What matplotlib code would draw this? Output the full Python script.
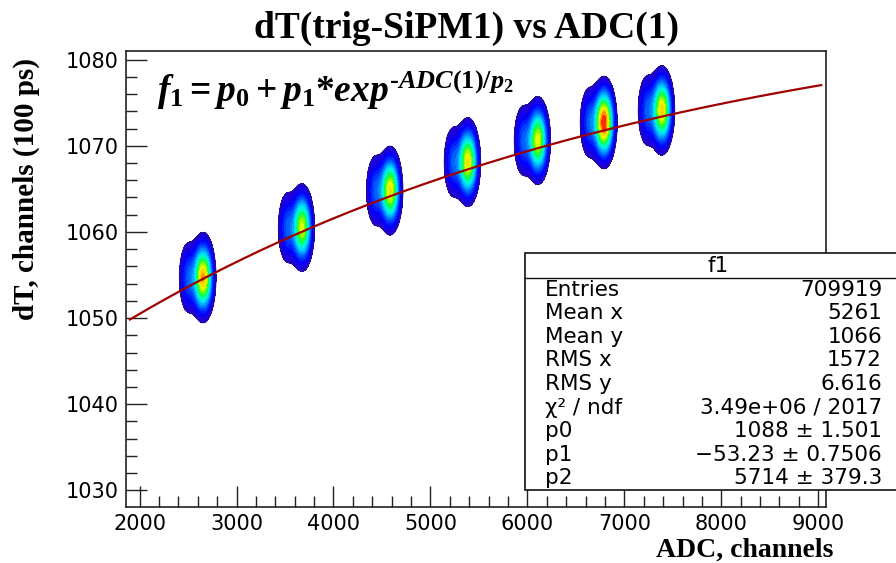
import numpy as np
import matplotlib
matplotlib.use("Agg")
import matplotlib.pyplot as plt
from matplotlib.colors import LinearSegmentedColormap
from matplotlib.patches import Rectangle
from matplotlib.lines import Line2D

# ---- data ----
# 2D histogram clusters: peak position (ADC, dT), relative peak height
blob_adc = [2655, 3676, 4585, 5387, 6109, 6790, 7388]
blob_dt = [1054.7, 1060.5, 1064.8, 1068.1, 1070.6, 1072.7, 1074.1]
blob_height = [0.86, 0.72, 0.78, 0.78, 0.74, 0.98, 0.80]
blob_sig_adc = [56, 56, 56, 56, 56, 56, 56]
blob_sig_dt = [2.2, 2.2, 2.2, 2.2, 2.2, 2.2, 2.2]
# left shoulder of each cluster (offset in ADC, relative height)
shoulder_shift = [-150, -150, -150, -150, -150, -150, -150]
shoulder_height = [0.22, 0.22, 0.22, 0.22, 0.22, 0.22, 0.22]

# fit result f1 = p0 + p1*exp(-ADC/p2)
p0, p1, p2 = 1088.0, -53.23, 5714.0
fit_range = [1900, 9030]

stat_names = ["Entries", "Mean x", "Mean y", "RMS x", "RMS y",
              "\u03c7\u00b2 / ndf", "p0", "p1", "p2"]
stat_values = ["709919", "5261", "1066", "1572", "6.616",
               "3.49e+06 / 2017", "1088 \u00b1 1.501",
               "\u221253.23 \u00b1 0.7506", "5714 \u00b1 379.3"]

W, H = 896, 563
def px(x):
    return x / W
def py(y):
    return 1 - y / H

fig = plt.figure(figsize=(W / 100, H / 100), dpi=100)
ax = fig.add_axes([px(126), py(506.7), px(826) - px(126), py(51) - py(506.7)])

xlim = (1860, 9080)
ylim = (1028.1, 1081)

# density of the clusters on a grid
gx = np.linspace(xlim[0], xlim[1], 900)
gy = np.linspace(ylim[0], ylim[1], 600)
X, Y = np.meshgrid(gx, gy)
Z = np.zeros_like(X)
for i in range(len(blob_adc)):
    Z += blob_height[i] * np.exp(-0.5 * ((X - blob_adc[i]) / blob_sig_adc[i]) ** 2
                                 - 0.5 * ((Y - blob_dt[i]) / blob_sig_dt[i]) ** 2)
    Z += shoulder_height[i] * np.exp(-0.5 * ((X - blob_adc[i] - shoulder_shift[i]) / 55) ** 2
                                     - 0.5 * ((Y - blob_dt[i]) / 2.3) ** 2)

root_pal = LinearSegmentedColormap.from_list("rootpal", [
    "#2a00c8", "#0000ff", "#0050ff", "#00a0ff", "#00e6ff", "#00ffb0",
    "#00ff40", "#80ff00", "#e6ff00", "#ffd000", "#ff7000", "#ff0000"])
levels = np.linspace(np.sqrt(0.05), 1.0, 20) ** 2
ax.contourf(X, Y, Z, levels=levels, cmap=root_pal, extend="max")
ax.contour(X, Y, Z, levels=[0.05], colors="#1a1a80", linewidths=0.6)

# fit curve
fx = np.linspace(fit_range[0], fit_range[1], 300)
ax.plot(fx, p0 + p1 * np.exp(-fx / p2), color="#a00000", lw=1.6)

ax.set_xlim(xlim)
ax.set_ylim(ylim)
ax.set_xticks([2000, 3000, 4000, 5000, 6000, 7000, 8000, 9000])
ax.set_xticks(np.arange(2000, 9001, 200), minor=True)
ax.set_yticks([1030, 1040, 1050, 1060, 1070, 1080])
ax.set_yticks(np.arange(1030, 1081, 2), minor=True)
ax.tick_params(which="both", direction="in", top=False, right=False,
               color="#222222", width=1.0)
ax.tick_params(which="major", length=15, pad=5, labelsize=15)
ax.tick_params(which="minor", length=8)
for lab in ax.get_xticklabels() + ax.get_yticklabels():
    lab.set_family("DejaVu Sans")
for s in ax.spines.values():
    s.set_color("#222222")
    s.set_linewidth(1.2)

# texts
serif = "Liberation Serif"
fig.text(px(466), py(38), "dT(trig-SiPM1) vs ADC(1)", family=serif,
         weight="bold", fontsize=27, ha="center", va="baseline")
fig.text(px(26), py(58), "dT, channels (100 ps)", family=serif, weight="bold",
         fontsize=21, rotation=90, ha="center", va="top")
fig.text(px(833), py(557), "ADC, channels", family=serif, weight="bold",
         fontsize=20, ha="right", va="baseline")

plt.rcParams["mathtext.fontset"] = "custom"
plt.rcParams["mathtext.it"] = "Liberation Serif:italic:bold"
plt.rcParams["mathtext.rm"] = "Liberation Serif:bold"
plt.rcParams["mathtext.bf"] = "Liberation Serif:bold"
fig.text(px(157), py(102),
         "$\\mathit{f_1 = p_0 + p_1{*}exp^{\u2010ADC(1)/p_2}}$",
         fontsize=27, ha="left", va="baseline")

# stats box
bx0, by0, bx1, by1 = 525, 253, 915, 490
fig.add_artist(Rectangle((px(bx0), py(by1)), px(bx1) - px(bx0), py(by0) - py(by1),
                         transform=fig.transFigure, facecolor="white",
                         edgecolor="#111111", lw=1.2, zorder=5))
fig.add_artist(Line2D([px(bx0), px(bx1)], [py(278), py(278)],
                      transform=fig.transFigure, color="#111111", lw=1.0, zorder=6))
fig.text(px(718), py(266), "f1", family="DejaVu Sans", fontsize=15.5,
         ha="center", va="center", zorder=7)
row_h = (by1 - 278) / len(stat_names)
for i, (n, v) in enumerate(zip(stat_names, stat_values)):
    yc = 278 + row_h * (i + 0.5)
    fig.text(px(545), py(yc), n, family="DejaVu Sans", fontsize=15.5,
             ha="left", va="center", zorder=7)
    fig.text(px(882), py(yc), v, family="DejaVu Sans", fontsize=15.5,
             ha="right", va="center", zorder=7)

fig.savefig("out.png", dpi=100)
